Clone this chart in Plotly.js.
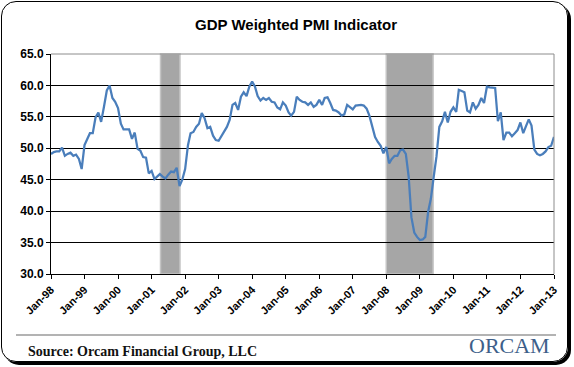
<!DOCTYPE html>
<html>
<head>
<meta charset="utf-8">
<script src="https://cdn.plot.ly/plotly-3.0.1.min.js"></script>
<style>
  html, body { margin: 0; padding: 0; background: #fff; }
  #wrap { position: relative; width: 574px; height: 367px; overflow: hidden; }
  #chart { position: absolute; left: 0; top: 0; width: 574px; height: 367px; }
  #frame { position: absolute; left: 1px; top: 1px; width: 565px; height: 359px;
           border: 1.5px solid #000; border-radius: 15px; box-shadow: 3px 3px 0 #000;
           pointer-events: none; }
</style>
</head>
<body>
<div id="wrap">
  <div id="chart"></div>
  <div id="frame"></div>
</div>
<script>
// Monthly GDP weighted PMI, Jan-1998 .. Jan-2013
const startMonth = '1998-01';
const pmi = [
  49.1, 49.4, 49.5, 49.5, 50.1, 48.8, 49.1, 49.3, 48.8, 49.0, 48.3, 46.7, // 1998
  50.5, 51.6, 52.4, 52.4, 54.9, 55.7, 54.2, 56.6, 59.2, 60.0, 58.0, 57.4, // 1999
  56.4, 53.9, 53.0, 53.0, 53.0, 51.5, 52.5, 49.9, 49.6, 48.6, 48.5, 46.0, // 2000
  46.4, 45.1, 45.5, 45.9, 45.5, 45.2, 45.8, 46.3, 46.2, 46.9, 44.0, 45.0, // 2001
  46.7, 50.5, 52.4, 52.6, 53.4, 53.9, 55.6, 54.8, 53.2, 53.4, 52.0, 51.3, // 2002
  51.2, 51.9, 52.7, 53.4, 54.5, 56.9, 57.2, 56.1, 58.2, 58.9, 58.3, 59.8, // 2003
  60.6, 59.8, 58.3, 57.6, 58.0, 57.7, 58.0, 57.4, 57.3, 56.5, 56.2, 57.3, // 2004
  56.8, 55.7, 55.2, 55.8, 58.2, 57.7, 57.4, 57.3, 56.9, 57.3, 56.6, 56.9, // 2005
  57.7, 56.9, 58.0, 58.1, 57.2, 56.1, 56.0, 55.7, 55.2, 55.4, 56.9, 56.6, // 2006
  56.2, 56.8, 56.9, 56.9, 56.8, 56.3, 55.2, 53.5, 51.8, 51.0, 50.4, 49.2, // 2007
  50.2, 47.6, 48.3, 48.8, 48.8, 49.7, 49.8, 49.1, 45.5, 39.0, 36.6, 35.9, // 2008
  35.4, 35.5, 35.9, 39.9, 42.0, 45.5, 48.7, 53.4, 54.3, 55.8, 54.1, 55.8, // 2009
  56.5, 55.8, 59.3, 59.1, 58.9, 56.0, 55.7, 57.3, 56.3, 56.9, 58.0, 57.2, // 2010
  59.8, 59.7, 59.7, 59.6, 54.3, 55.7, 51.3, 52.5, 52.5, 51.9, 52.4, 52.9, // 2011
  54.1, 52.4, 53.5, 54.6, 53.6, 49.8, 49.1, 48.9, 49.1, 49.5, 50.2, 50.4, // 2012
  51.8                                                                    // 2013
];
const recessionStart = ['2001-04-08', '2008-01-01'];
const recessionEnd   = ['2001-11-06', '2009-05-25'];
const xRange = ['1998-01-01', '2013-01-01'];
const yRange = [30, 65];
const titleText = 'GDP Weighted PMI Indicator';
const sourceText = 'Source: Orcam Financial Group, LLC';
const logoText = 'ORCAM';

// month dates for each value
const y0 = parseInt(startMonth.slice(0, 4), 10), m0 = parseInt(startMonth.slice(5), 10) - 1;
const dates = pmi.map((_, i) => {
  const t = m0 + i, yy = y0 + Math.floor(t / 12), mm = (t % 12) + 1;
  return yy + '-' + String(mm).padStart(2, '0') + '-01';
});

const shapes = recessionStart.map((s, i) => ({
  type: 'rect', xref: 'x', yref: 'paper', x0: s, x1: recessionEnd[i], y0: 0, y1: 1,
  fillcolor: '#a6a6a6', line: { color: '#c4c4c4', width: 1.5 }, layer: 'between'
}));
// gray top / right plot border
shapes.push({ type: 'line', xref: 'paper', yref: 'paper', x0: 0, x1: 1, y0: 1, y1: 1,
  line: { color: '#8c8c8c', width: 1 }, layer: 'above' });
shapes.push({ type: 'line', xref: 'paper', yref: 'paper', x0: 1, x1: 1, y0: 0, y1: 1,
  line: { color: '#8c8c8c', width: 1 }, layer: 'above' });
// separator above source line
shapes.push({ type: 'line', xref: 'paper', yref: 'paper', x0: -0.0696, x1: 1.004, y0: -0.277, y1: -0.277,
  line: { color: '#9a9a9a', width: 1.5 }, layer: 'above' });

const trace = {
  x: dates, y: pmi, type: 'scatter', mode: 'lines',
  line: { color: '#4a7ebb', width: 2.25 }, hoverinfo: 'skip'
};

const layout = {
  width: 574, height: 367,
  margin: { l: 51, r: 20, t: 54, b: 93, pad: 0 },
  paper_bgcolor: '#ffffff', plot_bgcolor: '#ffffff',
  showlegend: false,
  font: { family: 'Liberation Sans, Arial, sans-serif', color: '#000' },
  title: { text: '<b>' + titleText + '</b>', xref: 'container', yref: 'container',
           x: 0.5157, y: 0.932, xanchor: 'center', yanchor: 'middle',
           font: { size: 15, color: '#000', family: 'Liberation Sans, Arial, sans-serif' } },
  xaxis: {
    type: 'date', range: xRange, tick0: '1998-01-01', dtick: 'M12', tickformat: '%b-%y',
    tickangle: -45, ticks: 'outside', ticklen: 4, tickcolor: '#000', tickwidth: 1,
    showgrid: false, zeroline: false, showline: true, linecolor: '#000', linewidth: 1,
    tickfont: { size: 11, color: '#000', family: 'Liberation Sans, Arial, sans-serif', weight: 'bold' },
    fixedrange: true
  },
  yaxis: {
    range: yRange, dtick: 5, tick0: 30, tickformat: '.1f',
    ticks: 'outside', ticklen: 4, tickcolor: '#000', tickwidth: 1,
    showgrid: true, gridcolor: '#000', gridwidth: 1, zeroline: false,
    showline: true, linecolor: '#000', linewidth: 1,
    tickfont: { size: 12, color: '#000', family: 'Liberation Sans, Arial, sans-serif', weight: 'bold' },
    fixedrange: true
  },
  shapes: shapes,
  annotations: [
    { text: '<b>' + sourceText + '</b>', xref: 'paper', yref: 'paper', x: -0.0505, y: -0.3527,
      xanchor: 'left', yanchor: 'middle', showarrow: false,
      font: { family: 'Liberation Serif, Times New Roman, serif', size: 14, color: '#111' } },
    { text: logoText, xref: 'paper', yref: 'paper', x: 0.9115, y: -0.327,
      xanchor: 'center', yanchor: 'middle', showarrow: false,
      font: { family: 'Liberation Serif, Times New Roman, serif', size: 22, color: '#3e5f8a' } }
  ]
};

Plotly.newPlot('chart', [trace], layout, { displayModeBar: false, staticPlot: true });
</script>
</body>
</html>
